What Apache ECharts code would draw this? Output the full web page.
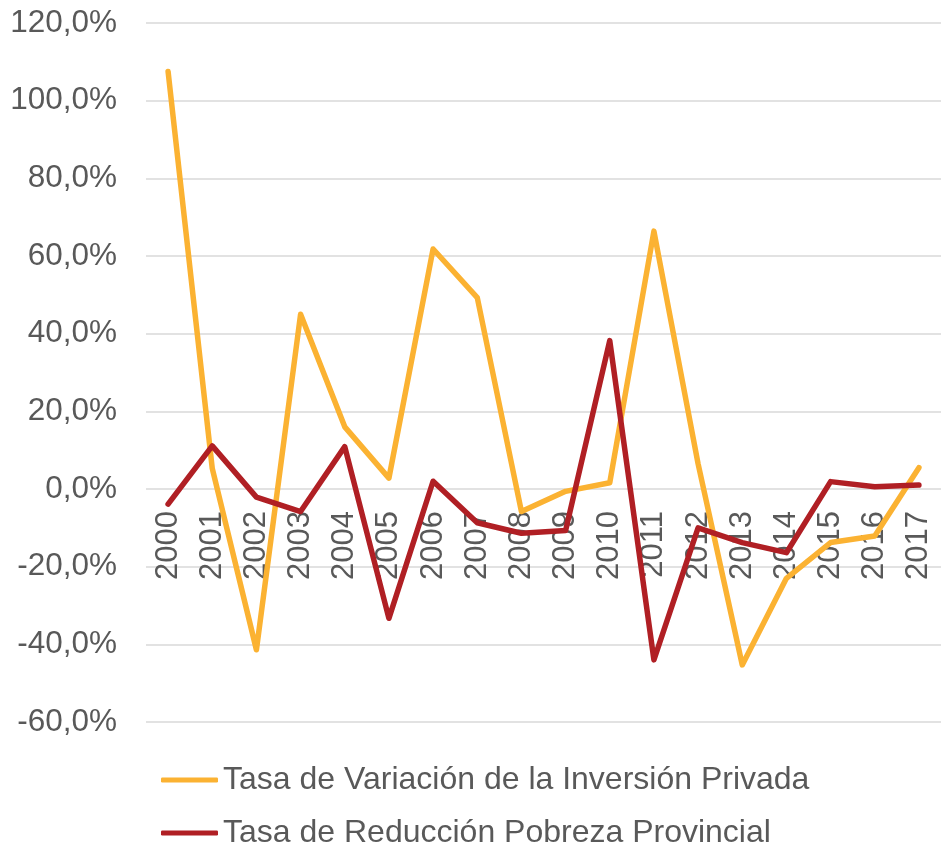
<!DOCTYPE html>
<html>
<head>
<meta charset="utf-8">
<script src="https://cdn.jsdelivr.net/npm/echarts@6/dist/echarts.min.js"></script>
<style>
  html, body { margin: 0; padding: 0; background: #fff; }
  #chart { width: 941px; height: 844px; }
</style>
</head>
<body>
<div id="chart"></div>
<script>
// años
const years = ['2000', '2001', '2002', '2003', '2004', '2005', '2006', '2007', '2008',
  '2009', '2010', '2011', '2012', '2013', '2014', '2015', '2016', '2017']

// Tasa de Variación de la Inversión Privada (%)
const inversionPrivada = [107.5, 5.3, -41.4, 45.0, 16.0, 2.8, 61.8, 49.3, -5.8,
  -0.6, 1.6, 66.4, 6.5, -45.3, -23.0, -13.8, -12.1, 5.5]

// Tasa de Reducción Pobreza Provincial (%)
const pobrezaProvincial = [-3.9, 11.1, -2.1, -5.8, 10.9, -33.3, 2.0, -8.7, -11.4,
  -10.7, 38.2, -44.0, -10.0, -13.8, -16.4, 1.9, 0.6, 1.0]

const seriesNames = ['Tasa de Variación de la Inversión Privada', 'Tasa de Reducción Pobreza Provincial']
const colors = ['#FBB232', '#B01F24']

const chart = echarts.init(document.getElementById('chart'))

const option = {
  backgroundColor: '#fff',
  animation: false,
  color: colors,
  grid: {
    left: 146,
    right: -5,
    top: 23,
    bottom: 122
  },
  legend: {
    orient: 'vertical',
    left: 161,
    top: 764,
    height: 100,
    padding: 0,
    data: seriesNames,
    icon: 'roundRect',
    itemWidth: 57,
    itemHeight: 5,
    itemGap: 21,
    textStyle: {
      color: '#595959',
      fontFamily: 'Liberation Sans',
      fontSize: 32,
      lineHeight: 26
    }
  },
  xAxis: {
    type: 'category',
    data: years,
    position: 'bottom',
    offset: -233, // sube el eje hasta la línea del 0%
    axisLine: { show: false, onZero: false },
    axisTick: { show: false },
    axisLabel: {
      rotate: 90,
      margin: 22,
      interval: 0,
      color: '#595959',
      fontFamily: 'Liberation Sans',
      fontSize: 31
    }
  },
  yAxis: {
    type: 'value',
    min: -60,
    max: 120,
    interval: 20,
    axisLine: { show: false },
    axisTick: { show: false },
    splitLine: {
      lineStyle: { color: '#D9D9D9', width: 1.5 }
    },
    axisLabel: {
      margin: 29,
      color: '#595959',
      fontFamily: 'Liberation Sans',
      fontSize: 31.5,
      formatter: (v) => v.toFixed(1).replace('.', ',') + '%'
    }
  },
  series: [
    {
      name: seriesNames[0],
      type: 'line',
      data: inversionPrivada,
      symbol: 'none',
      lineStyle: { width: 5.5, cap: 'round', join: 'round' }
    },
    {
      name: seriesNames[1],
      type: 'line',
      data: pobrezaProvincial,
      symbol: 'none',
      lineStyle: { width: 5.5, cap: 'round', join: 'round' }
    }
  ]
}

chart.setOption(option)
</script>
</body>
</html>
